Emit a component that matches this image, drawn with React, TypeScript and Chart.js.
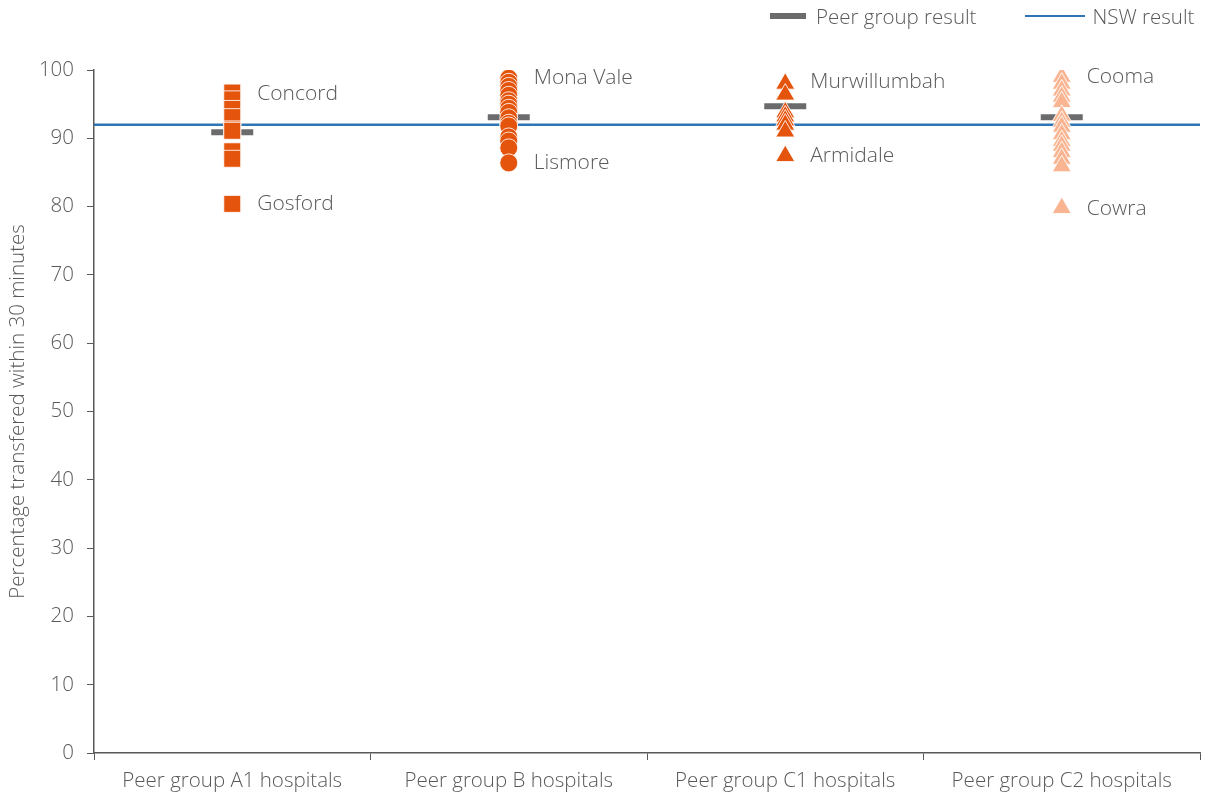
import React, { useEffect, useRef } from "react";
import { Chart, registerables } from "chart.js";

Chart.register(...registerables);

const categories = [
  "Peer group A1 hospitals",
  "Peer group B hospitals",
  "Peer group C1 hospitals",
  "Peer group C2 hospitals",
];

const a1Values = [96.7, 95.7, 94.3, 93.1, 91.3, 91.1, 88.1, 87.0, 80.4];
const bValues = [98.8, 98.2, 97.6, 97.0, 96.3, 95.5, 95.0, 94.4, 93.8, 93.0, 92.2, 91.8, 90.2, 89.6, 88.6, 86.4];
const c1Values = [98.0, 96.4, 93.8, 93.2, 92.6, 92.0, 91.0, 87.4];
const c2Values = [99.0, 98.0, 97.0, 96.1, 95.3, 93.3, 92.4, 91.7, 90.6, 89.6, 88.9, 88.0, 87.0, 85.9, 79.8];

const peerResults = [90.9, 93.1, 94.7, 93.1];
const nswResult = 92.0;

const labelTexts = ["Concord", "Gosford", "Mona Vale", "Lismore", "Murwillumbah", "Armidale", "Cooma", "Cowra"];
const labelCategories = [0, 0, 1, 1, 2, 2, 3, 3];
const labelValues = [96.5, 80.4, 98.8, 86.4, 98.2, 87.4, 99.0, 79.6];

const yTicks = [0, 10, 20, 30, 40, 50, 60, 70, 80, 90, 100];

const FONT = "'Open Sans', 'DejaVu Sans', sans-serif";
const WEIGHT = 300;
const FS = 20.5;
const TEXT = "#595959";
const DARK_ORANGE = "#E5540C";
const LIGHT_ORANGE = "#F9B592";
const GREY = "#6B6B6D";
const BLUE = "#2E75B6";

const toPts = (cat: string, vals: number[]) => vals.map((v) => ({ x: cat, y: v }));

export default function App() {
  const ref = useRef<HTMLCanvasElement | null>(null);

  useEffect(() => {
    if (!ref.current) return;
    const overlay = {
      id: "overlay",
      beforeDatasetsDraw(chart: any) {
        const { ctx, chartArea, scales } = chart;
        const y = scales.y.getPixelForValue(nswResult);
        ctx.save();
        ctx.strokeStyle = BLUE;
        ctx.lineWidth = 2.5;
        ctx.beginPath();
        ctx.moveTo(chartArea.left, y);
        ctx.lineTo(chartArea.right, y);
        ctx.stroke();
        ctx.restore();
      },
      afterDatasetsDraw(chart: any) {
        const { ctx, scales } = chart;
        ctx.save();
        ctx.fillStyle = TEXT;
        ctx.font = `${WEIGHT} 21px ${FONT}`;
        ctx.textAlign = "left";
        ctx.textBaseline = "middle";
        labelTexts.forEach((t, i) => {
          const x = scales.x.getPixelForValue(labelCategories[i]) + 25;
          const y = scales.y.getPixelForValue(labelValues[i]);
          ctx.fillText(t, x, y);
        });
        ctx.restore();
      },
    };

    const pointCommon = {
      showLine: false,
      pointBorderColor: "rgba(255,255,255,0.85)",
      pointBorderWidth: 1,
    };

    const chart = new Chart(ref.current, {
      type: "line",
      data: {
        labels: categories,
        datasets: [
          {
            ...pointCommon,
            label: "A1",
            data: toPts(categories[0], a1Values),
            pointStyle: "rect",
            pointRadius: 12,
            pointBackgroundColor: DARK_ORANGE,
            order: 1,
          },
          {
            ...pointCommon,
            label: "B",
            data: toPts(categories[1], bValues),
            pointStyle: "circle",
            pointRadius: 9,
            pointBackgroundColor: DARK_ORANGE,
            order: 1,
          },
          {
            ...pointCommon,
            label: "C1",
            data: toPts(categories[2], c1Values),
            pointStyle: "triangle",
            pointRadius: 11,
            pointBackgroundColor: DARK_ORANGE,
            order: 1,
          },
          {
            ...pointCommon,
            label: "C2",
            data: toPts(categories[3], c2Values),
            pointStyle: "triangle",
            pointRadius: 11,
            pointBackgroundColor: LIGHT_ORANGE,
            order: 1,
          },
          {
            label: "Peer group result",
            data: categories.map((c, i) => ({ x: c, y: peerResults[i] })),
            showLine: false,
            pointStyle: "line",
            pointRadius: 21,
            pointBorderWidth: 6,
            pointBorderColor: GREY,
            pointBackgroundColor: GREY,
            order: 10,
          },
        ],
      },
      options: {
        animation: false,
        responsive: false,
        maintainAspectRatio: false,
        events: [],
        layout: { padding: { left: 0, right: 0, top: 70, bottom: 0 } },
        plugins: {
          legend: { display: false },
          tooltip: { enabled: false },
        },
        scales: {
          x: {
            type: "category",
            offset: true,
            afterFit: (s: any) => {
              s.height = 41;
            },
            grid: {
              offset: true,
              drawOnChartArea: false,
              drawTicks: true,
              tickLength: 7,
              color: TEXT,
              lineWidth: 1,
            },
            border: { color: TEXT, width: 1.5 },
            ticks: {
              color: TEXT,
              font: { family: FONT, size: FS, weight: WEIGHT },
              padding: 9,
              maxRotation: 0,
            },
          },
          y: {
            type: "linear",
            min: 0,
            max: 100,
            afterFit: (s: any) => {
              s.width = 94;
            },
            afterBuildTicks: (s: any) => {
              s.ticks = yTicks.map((v) => ({ value: v }));
            },
            grid: {
              drawOnChartArea: false,
              drawTicks: true,
              tickLength: 7,
              color: TEXT,
              lineWidth: 1,
            },
            border: { color: TEXT, width: 1.5 },
            ticks: {
              color: TEXT,
              font: { family: FONT, size: FS, weight: WEIGHT },
              padding: 13,
            },
            title: {
              display: true,
              text: "Percentage transfered within 30 minutes",
              color: TEXT,
              font: { family: FONT, size: FS, weight: WEIGHT },
              padding: { top: 6, bottom: 0 },
            },
          },
        },
      },
      plugins: [overlay],
    } as any);
    const delta = 1200 - chart.chartArea.right;
    if (Math.abs(delta) > 0.5) {
      chart.resize(1213 + delta, 794);
    }
    return () => chart.destroy();
  }, []);

  return (
    <div style={{ position: "fixed", left: 0, top: 0, width: 1213, height: 794, background: "#fff", overflow: "hidden" }}>
      <canvas ref={ref} width={1213} height={794} style={{ display: "block", width: 1213, height: 794 }} />
      <div
        style={{
          position: "absolute",
          left: 770,
          top: 4,
          display: "flex",
          alignItems: "center",
          fontFamily: FONT,
          fontWeight: WEIGHT,
          fontSize: FS,
          color: TEXT,
          whiteSpace: "nowrap",
          lineHeight: "24px",
        }}
      >
        <span style={{ display: "inline-block", width: 36, height: 6, background: GREY, marginRight: 10 }} />
        <span>Peer group result</span>
        <span style={{ display: "inline-block", width: 60, height: 2.5, background: BLUE, marginLeft: 49, marginRight: 7 }} />
        <span>NSW result</span>
      </div>
    </div>
  );
}
